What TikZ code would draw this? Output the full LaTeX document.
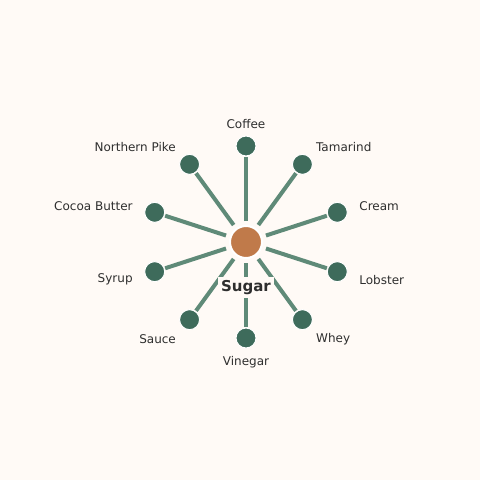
\documentclass[tikz,border=0pt]{standalone}
\usepackage{fontspec}
\setmainfont{DejaVu Sans}
\usepackage{xcolor}
\definecolor{paper}{HTML}{FFFAF6}
\definecolor{leafgreen}{HTML}{3E6B5B}
\definecolor{stemgreen}{HTML}{5F8A78}
\definecolor{sugarorange}{HTML}{C07A4A}
\definecolor{inkgray}{HTML}{2E2E2E}
\tikzset{
  hub/.style={circle, fill=sugarorange, draw=white, line width=2pt, minimum size=32pt, inner sep=0pt, outer sep=5pt},
  leaf/.style={circle, fill=leafgreen, draw=white, line width=1pt, minimum size=20pt, inner sep=0pt, outer sep=1pt},
  stem/.style={stemgreen, line width=4pt},
  leaflabel/.style={text=inkgray, font=\fontsize{12}{14}\selectfont, inner sep=0pt, yshift=-1pt},
}
\begin{document}
\begin{tikzpicture}[x=1pt, y=1pt]
  \fill[paper] (-246,-238) rectangle (234,242);
  \useasboundingbox (-246,-238) rectangle (234,242);
  \node[hub] (sugar) at (0,0) {};
  \node[leaf] (coffee) at (90:96) {};
  \node[leaf] (tamarind) at (54:96) {};
  \node[leaf] (cream) at (18:96) {};
  \node[leaf] (lobster) at (-18:96) {};
  \node[leaf] (whey) at (-54:96) {};
  \node[leaf] (vinegar) at (-90:96) {};
  \node[leaf] (sauce) at (-126:96) {};
  \node[leaf] (syrup) at (-162:96) {};
  \node[leaf] (cocoa) at (162:96) {};
  \node[leaf] (pike) at (126:96) {};
  \draw[stem] (sugar) -- (coffee);
  \draw[stem] (sugar) -- (tamarind);
  \draw[stem] (sugar) -- (cream);
  \draw[stem] (sugar) -- (lobster);
  \draw[stem] (sugar) -- (whey);
  \draw[stem] (sugar) -- (vinegar);
  \draw[stem] (sugar) -- (sauce);
  \draw[stem] (sugar) -- (syrup);
  \draw[stem] (sugar) -- (cocoa);
  \draw[stem] (sugar) -- (pike);
  \node[leaflabel, anchor=center] (coffee-l) at (90:119) {Coffee};
  \node[leaflabel, anchor=west] (tamarind-l) at (54:119) {Tamarind};
  \node[leaflabel, anchor=west] (cream-l) at (18:119) {Cream};
  \node[leaflabel, anchor=west] (lobster-l) at (-18:119) {Lobster};
  \node[leaflabel, anchor=west] (whey-l) at (-54:119) {Whey};
  \node[leaflabel, anchor=center] (vinegar-l) at (-90:119) {Vinegar};
  \node[leaflabel, anchor=east] (sauce-l) at (-126:119) {Sauce};
  \node[leaflabel, anchor=east] (syrup-l) at (-162:119) {Syrup};
  \node[leaflabel, anchor=east] (cocoa-l) at (162:119) {Cocoa Butter};
  \node[leaflabel, anchor=east] (pike-l) at (126:119) {Northern Pike};
  \node[fill=paper, text=inkgray, font=\fontsize{15}{17}\selectfont\bfseries, inner sep=3pt] (sugar-l) at (0,-45.5) {Sugar};
\end{tikzpicture}
\end{document}
